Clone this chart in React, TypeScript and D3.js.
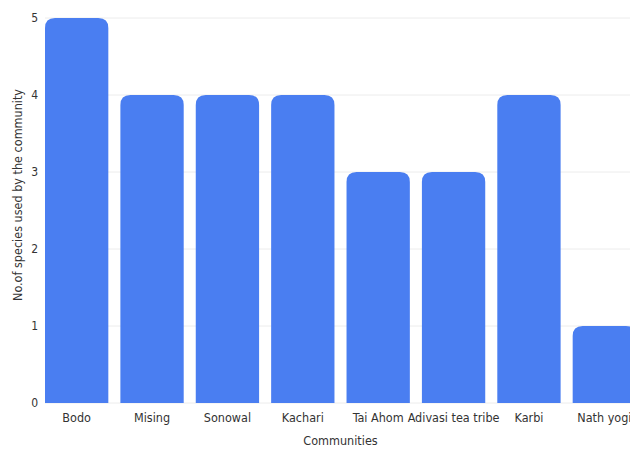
import React from "react";
import * as d3 from "d3";

const categories = ["Bodo", "Mising", "Sonowal", "Kachari", "Tai Ahom", "Adivasi tea tribe", "Karbi", "Nath yogi"];
const values = [5, 4, 4, 4, 3, 3, 4, 1];
const yTicks = [0, 1, 2, 3, 4, 5];

const W = 630;
const H = 450;
const FONT = "'Liberation Sans Narrow', 'DejaVu Sans Condensed', Roboto, sans-serif";

function topRounded(x: number, y: number, w: number, h: number, r: number) {
  const rr = Math.min(r, w / 2, h);
  return `M${x},${y + h}V${y + rr}Q${x},${y} ${x + rr},${y}H${x + w - rr}Q${x + w},${y} ${x + w},${y + rr}V${y + h}Z`;
}

export default function App() {
  const x = d3.scaleBand<string>().domain(categories).range([45, 636]).paddingInner(0.16).paddingOuter(0);
  const y = d3.scaleLinear().domain([0, 5]).range([403, 18]);
  const bw = x.bandwidth();
  return (
    <svg width={W} height={H} style={{ position: "absolute", left: 0, top: 0, background: "#fff" }}>
      {yTicks.map((t) => (
        <g key={t}>
          {t > 0 && <line x1={45} x2={W} y1={y(t)} y2={y(t)} stroke="#ececec" strokeWidth={1} />}
          <text x={38} y={y(t)} dy="0.35em" textAnchor="end" fontFamily={FONT} fontSize={12} fill="#333">
            {t}
          </text>
        </g>
      ))}
      <line x1={45} x2={W} y1={y(0)} y2={y(0)} stroke="#ececec" strokeWidth={1} />
      {categories.map((c, i) => (
        <path key={c} d={topRounded(x(c)!, y(values[i]), bw, y(0) - y(values[i]), 10)} fill="#4a7ef1" />
      ))}
      {categories.map((c) => (
        <text key={c} x={x(c)! + bw / 2} y={418} dy="0.35em" textAnchor="middle" fontFamily={FONT} fontSize={12.5} fill="#333">
          {c}
        </text>
      ))}
      <text x={340.5} y={441} dy="0.35em" textAnchor="middle" fontFamily={FONT} fontSize={12.5} fill="#333">
        Communities
      </text>
      <text
        transform={`translate(18,195) rotate(-90)`}
        dy="0.35em"
        textAnchor="middle"
        fontFamily={FONT}
        fontSize={12.5}
        fill="#333"
      >
        No.of species used by the community
      </text>
    </svg>
  );
}
